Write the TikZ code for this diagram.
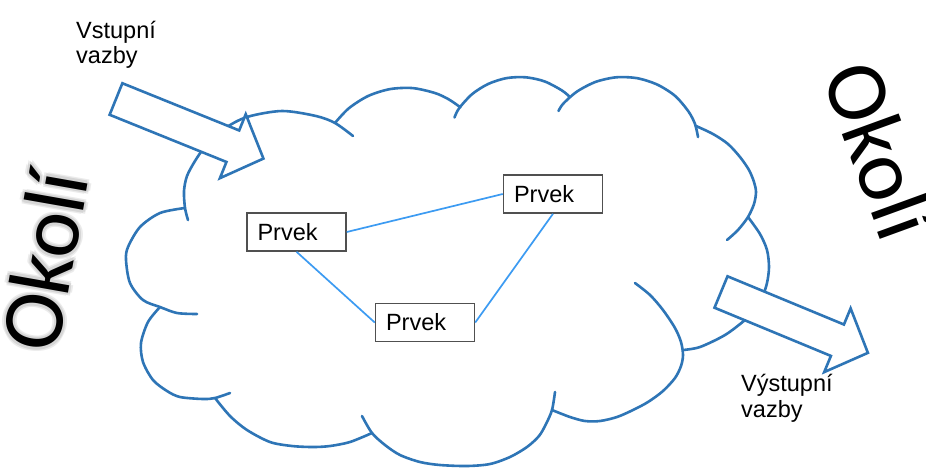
\documentclass[tikz,border=0pt]{standalone}
\usepackage{fontspec}
\setmainfont{Liberation Sans}
\newfontfamily\okolifont{Carlito}
\usetikzlibrary{calc}
\definecolor{cloudblue}{HTML}{2E75B6}
\definecolor{linkblue}{HTML}{3C9BF2}
\definecolor{boxgray}{HTML}{505050}
\tikzset{
 cloudline/.style={draw=cloudblue, line width=2.6pt, line cap=round, line join=round},
 blockarrow/.style={draw=cloudblue, fill=white, line width=2.6pt, line join=miter},
 link/.style={draw=linkblue, line width=1.7pt},
 prvek/.style={draw=boxgray, fill=white, line width=1.5pt, minimum width=99pt, minimum height=38pt,
   text width=78pt, inner xsep=10.5pt, align=left, font=\fontsize{23.5}{28}\selectfont,
   text height=16.8pt, text depth=0pt},
 lbl/.style={font=\fontsize{23.5}{28}\selectfont, inner sep=0pt, anchor=base west},
 okoli/.style={font=\okolifont\fontsize{87}{87}\selectfont, inner sep=0pt},
}
\begin{document}
\begin{tikzpicture}[x=1pt,y=-1pt]
\useasboundingbox (0,0) rectangle (926,467);
\clip (0,0) rectangle (926,467);
\fill[white] (0,0) rectangle (926,467);
% cloud lumps
\draw[cloudline] plot[smooth] coordinates {(188,220) (185,208) (184,191) (187,176) (195,161) (205,147) (224,129) (247,117) (282,111) (316,116) (335,123) (353,136)};
\draw[cloudline] plot[smooth] coordinates {(335.2,122.7) (348.8,108.3) (368.1,96.0) (390,89.1) (412.8,88.1) (435.2,93.1) (449,99.5) (460.4,107.3)};
\draw[cloudline] plot[smooth] coordinates {(454.5,117.5) (459,108.4) (472,94.2) (488.3,83.9) (506.6,78.1) (525.8,77.3) (544.6,81.4) (561.7,90.3) (569.7,96.8)};
\draw[cloudline] plot[smooth] coordinates {(558.5,111) (563.2,103.7) (576.9,91.6) (595.6,81.9) (616.2,77.3) (637.2,78.2) (657.3,84.6) (675.1,95.9) (688.5,111.5) (695,124) (698,137)};
\draw[cloudline] plot[smooth] coordinates {(696,126) (713,134) (728,144) (740,157) (749,170) (754,182) (756,192) (754,204) (748,217) (738,230) (727,240)};
\draw[cloudline] plot[smooth] coordinates {(748,217) (760,234) (767,250) (769,267) (767,283) (762,298) (755,310) (745,320) (725,335) (700,347) (683,350)};
\draw[cloudline] plot[smooth] coordinates {(635,283) (650,295) (663,310) (675,328) (681,342) (683,355) (681,366) (675,378) (663,391) (648,402) (633,410) (617,417) (600,421) (585,421) (570,417) (552,410)};
\draw[cloudline] plot[smooth] coordinates {(362,416) (372,433) (385,445) (400,455) (420,462) (440,465) (467,466) (490,464) (510,457) (527,447) (539,436) (546,424) (552,410) (555,392)};
\draw[cloudline] plot[smooth] coordinates {(372,433) (350,442) (330,446) (313,447) (292,446) (270,442) (247,430) (230,416) (215,398)};
\draw[cloudline] plot[smooth] coordinates {(160,307) (148,322) (141,343) (143,362) (153,380) (167,391) (180,397) (203,399) (215,398) (230,393)};
\draw[cloudline] plot[smooth] coordinates {(185,208) (160,213) (140,227) (128,247) (126,260) (130,283) (143,300) (160,307) (177,313) (197,314)};
% block arrows
\draw[blockarrow, shift={(116,99)}, rotate=-22] (0,-17) -- (126,-17) -- (126,-34.5) -- (159,0) -- (126,34.5) -- (126,17) -- (0,17) -- cycle;
\draw[blockarrow, shift={(721,292)}, rotate=-22.5] (0,-17) -- (126,-17) -- (126,-34.5) -- (159,0) -- (126,34.5) -- (126,17) -- (0,17) -- cycle;
% elements
\node[prvek] (p1) at (296.5,232) {Prvek};
\node[prvek] (p2) at (553,194) {Prvek};
\node[prvek] (p3) at (425,322.5) {Prvek};
\draw[link] (p1.east) -- (p2.west);
\draw[link] (p1.south) -- (p3.west);
\draw[link] (p2.south) -- (p3.east);
% labels
\node[lbl] (in1) at (76,38.3) {Vstupní};
\node[lbl] (in2) at (76,63.5) {vazby};
\node[lbl] (out1) at (741,391) {Výstupní};
\node[lbl] (out2) at (741,417) {vazby};
% Okoli left with soft glow
\foreach \a in {0,60,...,300} {
  \node[okoli, rotate=80, text=black!8] (glowb\a) at ($(44,261)+(\a:4)$) {Okolí};
}
\foreach \a in {30,90,...,330} {
  \node[okoli, rotate=80, text=black!16] (glowa\a) at ($(44,261)+(\a:2.4)$) {Okolí};
}
\node[okoli, rotate=80] (okL) at (44,261) {Okolí};
% Okoli right
\node[okoli, rotate=-70] (okR) at (880,150) {Okolí};
\end{tikzpicture}
\end{document}
